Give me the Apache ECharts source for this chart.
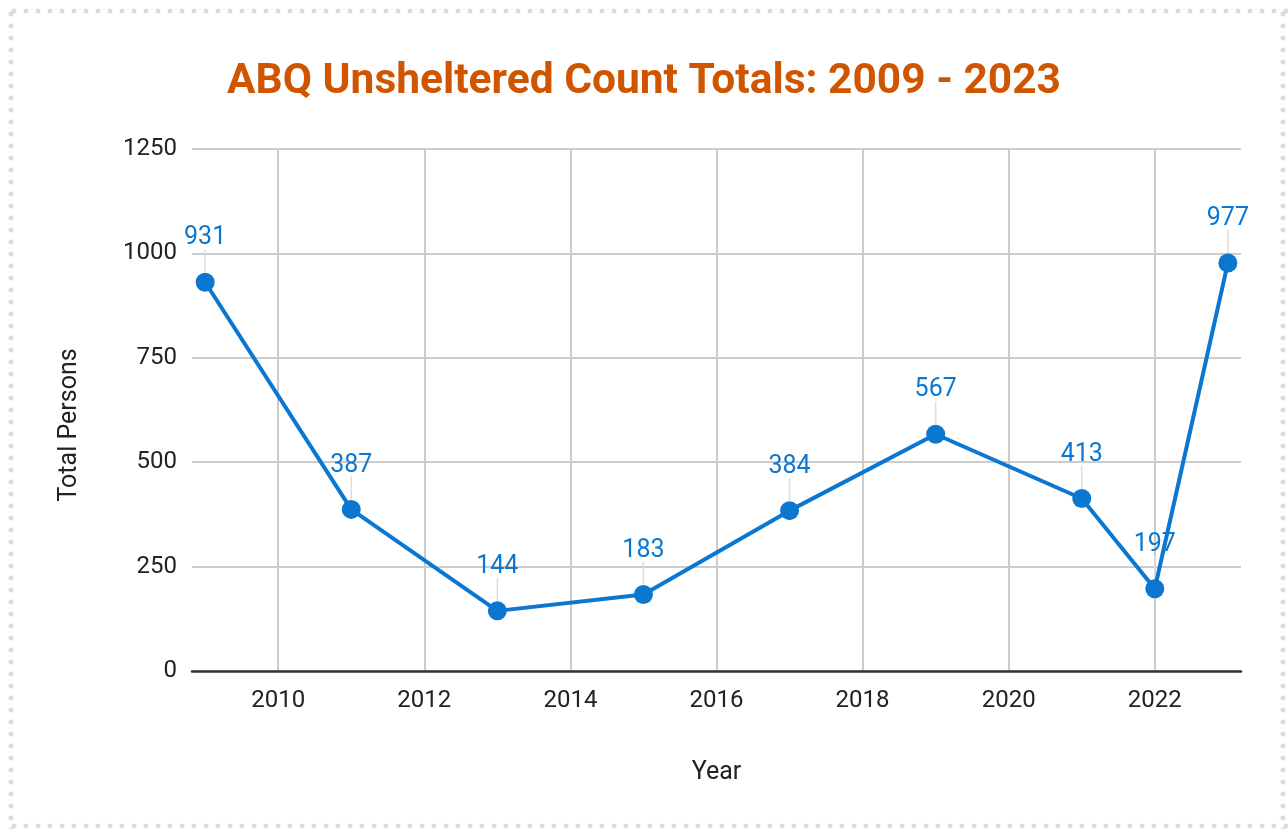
<!DOCTYPE html>
<html>
<head>
<meta charset="utf-8">
<script src="https://cdn.jsdelivr.net/npm/echarts@6/dist/echarts.min.js"></script>
<style>
  html, body { margin: 0; padding: 0; background: #fff; }
  #chart { width: 1288px; height: 829px; }
  .dots { position: absolute; }
  .dots.h { height: 6px; left: 8px; width: 1280px;
    background: radial-gradient(circle, #dcdcdc 2.2px, transparent 2.8px) 0 0 / 12px 6px repeat-x; }
  .dots.v { width: 6px; top: 8px; height: 822px;
    background: radial-gradient(circle, #dcdcdc 2.2px, transparent 2.8px) 0 0 / 6px 12px repeat-y; }
</style>
</head>
<body>
<div id="chart"></div>
<div class="dots h" style="top:8px"></div>
<div class="dots h" style="top:823px"></div>
<div class="dots v" style="left:8px"></div>
<div class="dots v" style="left:1280px"></div>
<script>
// values
const years = [2009, 2011, 2013, 2015, 2017, 2019, 2021, 2022, 2023];
const totals = [931, 387, 144, 183, 384, 567, 413, 197, 977];
const yearTicks = [2010, 2012, 2014, 2016, 2018, 2020, 2022];

const blue = '#0b77d1';
const points = years.map((y, i) => [y, totals[i]]);

const chart = echarts.init(document.getElementById('chart'));
chart.setOption({
  animation: false,
  textStyle: { fontFamily: 'Roboto' },
  title: {
    text: 'ABQ Unsheltered Count Totals: 2009 - 2023',
    left: 'center',
    top: 56,
    textStyle: { color: '#d05500', fontSize: 42.5, fontWeight: 'bold', fontFamily: 'Roboto' }
  },
  grid: { left: 192, right: 47, top: 149, bottom: 158 },
  xAxis: {
    type: 'value',
    min: 2008.82,
    max: 2023.18,
    name: 'Year',
    nameLocation: 'middle',
    nameGap: 89,
    nameTextStyle: { fontSize: 25, color: '#222' },
    axisLine: { show: true, lineStyle: { color: '#333', width: 2.5 } },
    axisTick: { show: false, customValues: yearTicks },
    axisLabel: { customValues: yearTicks, fontSize: 24, color: '#222', margin: 18,
      formatter: v => String(v) },
    splitLine: { show: true, lineStyle: { color: '#cccccc', width: 2 } }
  },
  yAxis: {
    type: 'value',
    min: 0,
    max: 1250,
    interval: 250,
    name: 'Total Persons',
    nameLocation: 'middle',
    nameGap: 110,
    nameTextStyle: { fontSize: 25, color: '#222', padding: [0, 0, 0, -30] },
    axisLine: { show: false },
    axisTick: { show: false },
    axisLabel: { fontSize: 24, color: '#222', margin: 15, formatter: v => String(v) },
    splitLine: { lineStyle: { color: '#cccccc', width: 2 } }
  },
  series: [
    {
      // leader lines from each point to its label
      type: 'custom',
      z: 1,
      silent: true,
      data: points,
      renderItem: function (params, api) {
        const p = api.coord([api.value(0), api.value(1)]);
        return {
          type: 'line',
          shape: { x1: p[0], y1: p[1] - 10, x2: p[0], y2: p[1] - 33 },
          style: { stroke: '#dddddd', lineWidth: 1.5 }
        };
      }
    },
    {
      type: 'line',
      z: 3,
      data: points,
      symbol: 'circle',
      symbolSize: 19,
      lineStyle: { color: blue, width: 4 },
      itemStyle: { color: blue },
      label: {
        show: true,
        position: 'top',
        distance: 22,
        fontSize: 25,
        color: blue
      }
    }
  ]
});
</script>
</body>
</html>
